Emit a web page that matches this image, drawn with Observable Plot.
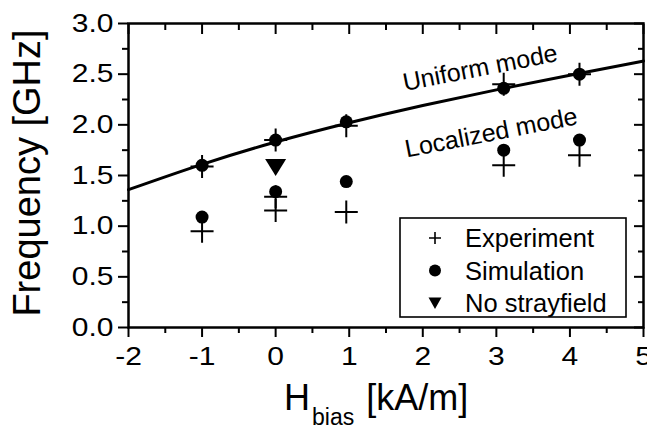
<!DOCTYPE html>
<html><head><meta charset="utf-8">
<script src="https://cdn.jsdelivr.net/npm/d3@7"></script>
<script src="https://cdn.jsdelivr.net/npm/@observablehq/plot@0.6"></script>
<style>
html,body{margin:0;padding:0;background:#fff;}
#chart{width:647px;height:430px;}
</style></head><body><div id="chart"></div>
<script>
const FONT = '"Liberation Sans", Arial, Helvetica, sans-serif';

// ---- data ----
const uniformX = [-1, 0, 0.96, 3.1, 4.13];
const expUniformY = [1.59, 1.85, 1.99, 2.40, 2.50];
const simUniformY = [1.60, 1.85, 2.03, 2.36, 2.50];
const localExpX = [-1, 0, 0, 0.96, 3.1, 4.13];
const localExpY = [0.95, 1.29, 1.155, 1.14, 1.60, 1.70];
const localSimX = [-1, 0, 0.96, 3.1, 4.13];
const localSimY = [1.09, 1.34, 1.44, 1.75, 1.85];
const noStrayX = [0];
const noStrayY = [1.58];
const fitX = [-2, -1, 0, 1, 2, 3, 4, 5];
const fitY = [1.36, 1.61, 1.83, 2.02, 2.19, 2.345, 2.49, 2.63];
const xTicks = [-2, -1, 0, 1, 2, 3, 4, 5];
const xTickLabels = ["-2", "-1", "0", "1", "2", "3", "4", "5"];
const xMinor = [-1.5, -0.5, 0.5, 1.5, 2.5, 3.5, 4.5];
const yTicks = [0, 0.5, 1, 1.5, 2, 2.5, 3];
const yTickLabels = ["0.0", "0.5", "1.0", "1.5", "2.0", "2.5", "3.0"];
const yMinor = [0.25, 0.75, 1.25, 1.75, 2.25, 2.75];
const annoText = ["Uniform mode", "Localized mode"];
const annoX = [2.78, 2.93];
const annoY = [2.56, 1.92];
const legendLabels = ["Experiment", "Simulation", "No strayfield"];
const yTitle = "Frequency [GHz]";
const xTitleMain = "H", xTitleSub = "bias", xTitleUnit = " [kA/m]";

const pts = (xs, ys) => xs.map((x, i) => ({x, y: ys[i]}));

// marker shapes
const plusBig = {draw(c) { c.moveTo(-11.5, 0); c.lineTo(11.5, 0); c.moveTo(0, -11.5); c.lineTo(0, 11.5); }};
const triDown = {draw(c) { c.moveTo(-10.5, -8.5); c.lineTo(10.5, -8.5); c.lineTo(0, 8.5); c.closePath(); }};

const plot = Plot.plot({
  width: 647, height: 430,
  marginLeft: 128, marginRight: 4, marginTop: 23, marginBottom: 103,
  x: {domain: [-2, 5], label: null},
  y: {domain: [0, 3], label: null},
  style: {fontFamily: FONT, background: "white", color: "black", overflow: "visible"},
  marks: [
    Plot.axisX({ticks: xTicks, tickSize: 10, tickPadding: 10, fontSize: 25, strokeWidth: 2, label: null,
      tickFormat: d => xTickLabels[xTicks.indexOf(d)]}),
    Plot.axisX({ticks: xMinor, tickSize: 6, strokeWidth: 2, fill: "none", label: null}),
    Plot.axisX({anchor: "top", ticks: xTicks, tickSize: -10, strokeWidth: 2, fill: "none", label: null}),
    Plot.axisX({anchor: "top", ticks: xMinor, tickSize: -6, strokeWidth: 2, fill: "none", label: null}),
    Plot.axisY({ticks: yTicks, tickSize: 10, tickPadding: 5, fontSize: 25, strokeWidth: 2, label: null,
      tickFormat: d => yTickLabels[yTicks.indexOf(d)]}),
    Plot.axisY({ticks: yMinor, tickSize: 6, strokeWidth: 2, fill: "none", label: null}),
    Plot.axisY({anchor: "right", ticks: yTicks, tickSize: -10, strokeWidth: 2, fill: "none", label: null}),
    Plot.axisY({anchor: "right", ticks: yMinor, tickSize: -6, strokeWidth: 2, fill: "none", label: null}),
    Plot.line(pts(fitX, fitY), {x: "x", y: "y", curve: "natural", stroke: "black", strokeWidth: 3}),
    Plot.dot(pts(uniformX, simUniformY), {x: "x", y: "y", r: 6.5, fill: "black", stroke: "none"}),
    Plot.dot(pts(localSimX, localSimY), {x: "x", y: "y", r: 6.5, fill: "black", stroke: "none"}),
    Plot.dot(pts(uniformX, expUniformY), {x: "x", y: "y", symbol: plusBig, fill: "none", stroke: "black", strokeWidth: 2}),
    Plot.dot(pts(localExpX, localExpY), {x: "x", y: "y", symbol: plusBig, fill: "none", stroke: "black", strokeWidth: 2}),
    Plot.dot(pts(noStrayX, noStrayY), {x: "x", y: "y", symbol: triDown, fill: "black", stroke: "none"}),
    Plot.text(annoText.map((t, i) => ({t, x: annoX[i], y: annoY[i]})), {x: "x", y: "y", text: "t", rotate: -11, fontSize: 25, fill: "black"}),
    Plot.frame({strokeWidth: 2.5, stroke: "black"})
  ]
});

document.getElementById("chart").appendChild(plot);
const svg = d3.select(plot);

// widen tick labels horizontally (reference glyphs are stretched)
svg.selectAll('g[aria-label="x-axis tick label"] text, g[aria-label="y-axis tick label"] text').each(function() {
  const t = this.getAttribute("transform");
  if (t && t.includes("translate")) {
    this.setAttribute("transform", t + " scale(1.2,1)");
  } else {
    const x = +(this.getAttribute("x") || 0);
    this.setAttribute("transform", `translate(${x},0) scale(1.2,1) translate(${-x},0)`);
  }
});

// axis titles
svg.append("text")
  .attr("transform", "translate(40,173) rotate(-90)")
  .attr("text-anchor", "middle")
  .attr("font-family", FONT).attr("font-size", 38).attr("fill", "black")
  .text(yTitle);
const xt = svg.append("text")
  .attr("x", 284).attr("y", 410).attr("text-anchor", "start")
  .attr("font-family", FONT).attr("font-size", 36).attr("fill", "black");
xt.append("tspan").text(xTitleMain);
xt.append("tspan").attr("font-size", 23).attr("dy", 15).attr("dx", 2).text(xTitleSub);
xt.append("tspan").attr("dy", -15).attr("dx", 2).text(xTitleUnit);

// legend
const lg = svg.append("g").attr("font-family", FONT).attr("font-size", 25.5).attr("fill", "black").attr("text-anchor", "start");
lg.append("rect").attr("x", 400).attr("y", 218).attr("width", 226).attr("height", 99)
  .attr("fill", "white").attr("stroke", "black").attr("stroke-width", 1.6);
const rowY = [238, 270.5, 303];
lg.append("path").attr("transform", `translate(435,${rowY[0]})`).attr("d", "M-6,0H6M0,-6V6")
  .attr("stroke", "black").attr("stroke-width", 1.6).attr("fill", "none");
lg.append("circle").attr("cx", 435).attr("cy", rowY[1]).attr("r", 6).attr("fill", "black");
lg.append("path").attr("transform", `translate(435,${rowY[2]})`).attr("d", "M-6.5,-5.5H6.5L0,6Z").attr("fill", "black");
legendLabels.forEach((s, i) => {
  lg.append("text").attr("x", 465).attr("y", rowY[i] + 9).attr("text-anchor", "start").text(s);
});
</script>
</body></html>
